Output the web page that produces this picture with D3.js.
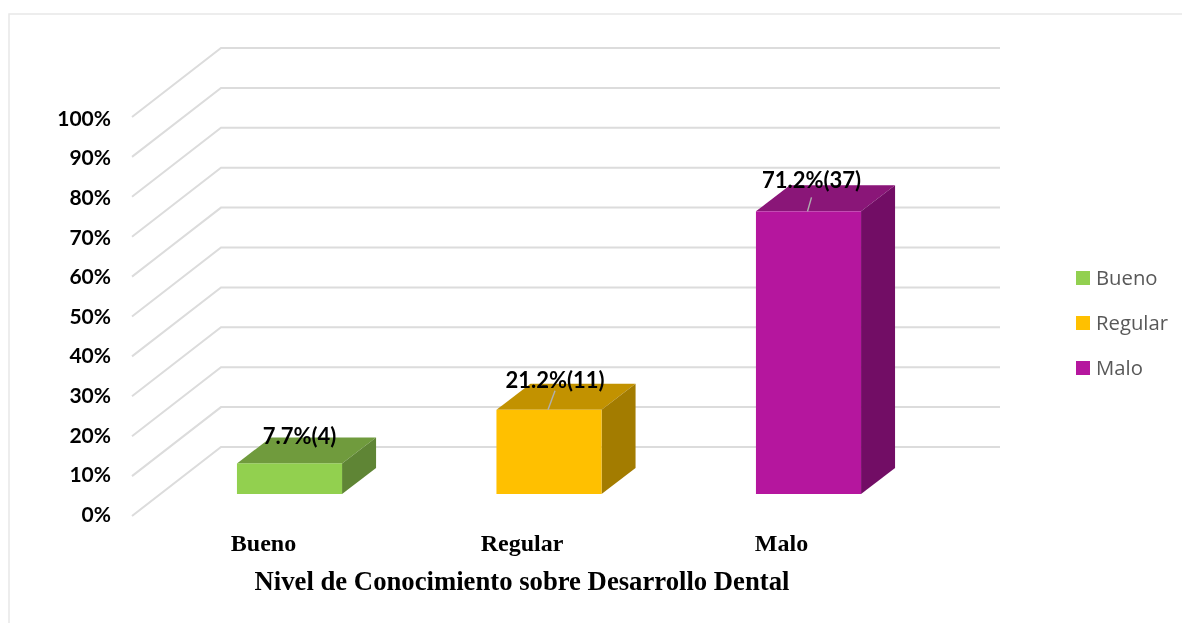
<html>
<head>
<meta charset="utf-8">
<script src="https://d3js.org/d3.v7.min.js"></script>
<style>
	body { margin:0; background:#fff; }
	svg { display:block; }
</style>
</head>
<body>
<svg id="chart" width="1182" height="623"></svg>
<script>
// values
var categories = ["Bueno", "Regular", "Malo"];
var percents = [7.7, 21.2, 71.2];
var counts = [4, 11, 37];
var yticks = [0, 10, 20, 30, 40, 50, 60, 70, 80, 90, 100];
var axisTitle = "Nivel de Conocimiento sobre Desarrollo Dental";

var frontColors = ["#92d050", "#ffc000", "#b5179e"];
var topColors = ["#6f9b3d", "#c29200", "#8a1278"];
var sideColors = ["#5f8534", "#a37b00", "#720f65"];

var svg = d3.select("#chart");
var soft = svg.append("filter").attr("id", "soft");
soft.append("feGaussianBlur").attr("stdDeviation", 0.5);
var softText = svg.append("filter").attr("id", "softText");
softText.append("feGaussianBlur").attr("stdDeviation", 0.3);

// floor/wall geometry
var wallDx = 89, wallDy = -69;
var barDx = 34, barDy = -26;
var gridRight = 1000;

var yAxisScale = d3.scaleLinear().domain([0, 100]).range([514, 118]);
var yGrid = d3.scaleLinear().domain([0, 100]).range([516, 117]);
var yBar = d3.scaleLinear().domain([0, 100]).range([494, 97]);
var x = d3.scaleBand().domain(categories).range([159.75, 938.25])
	.paddingInner(0.595).paddingOuter(0.2975);

// outer frame
svg.append("path")
	.attr("d", "M9,623V14H1182")
	.attr("fill", "none")
	.attr("stroke", "#e8e8e8")
	.attr("stroke-width", 1.5);

// gridlines, side wall then back wall
var grid = svg.append("g").attr("filter", "url(#soft)");
grid.selectAll("path")
	.data(yticks)
	.enter()
	.append("path")
		.attr("d", function(d) {
			var y0 = yGrid(d);
			return "M132," + y0 + "L" + (132 + wallDx) + "," + (y0 + wallDy) + "H" + gridRight;
		})
		.attr("fill", "none")
		.attr("stroke", "#dcdcdc")
		.attr("stroke-width", 2);

// y axis
var yAxis = svg.append("g")
	.attr("transform", "translate(118,0)")
	.attr("filter", "url(#softText)")
	.call(d3.axisLeft(yAxisScale).tickValues(yticks).tickSize(0).tickPadding(7).tickFormat(function(d) { return d + "%"; }));
yAxis.select(".domain").remove();
yAxis.selectAll("text")
	.attr("dy", "0.35em")
	.style("font", "bold 21px Lato")
	.attr("fill", "#000");

// 3d bars
var bars = svg.append("g").attr("filter", "url(#soft)");
categories.forEach(function(c, i) {
	var x0 = x(c), x1 = x0 + x.bandwidth();
	var yb = yBar(0), yt = yBar(percents[i]);
	bars.append("path")
		.attr("d", "M" + x0 + "," + yt + "L" + (x0 + barDx) + "," + (yt + barDy) + "H" + (x1 + barDx) + "L" + x1 + "," + yt + "Z")
		.attr("fill", topColors[i]);
	bars.append("path")
		.attr("d", "M" + x1 + "," + yt + "L" + (x1 + barDx) + "," + (yt + barDy) + "V" + (yb + barDy) + "L" + x1 + "," + yb + "Z")
		.attr("fill", sideColors[i]);
	bars.append("rect")
		.attr("x", x0)
		.attr("y", yt)
		.attr("width", x.bandwidth())
		.attr("height", yb - yt)
		.attr("fill", frontColors[i]);
});

// leader lines + data labels
var labels = svg.append("g").attr("filter", "url(#softText)");
categories.forEach(function(c, i) {
	var cx = x(c) + x.bandwidth() / 2;
	var yt = yBar(percents[i]);
	if (i > 0) {
		labels.append("line")
			.attr("x1", cx - 1)
			.attr("y1", yt)
			.attr("x2", i == 1 ? cx + 6 : cx + 3)
			.attr("y2", yt - (i == 1 ? 19 : 14))
			.attr("stroke", "#b0b0b0")
			.attr("stroke-width", 1.4);
	}
	labels.append("text")
		.attr("x", cx + [10, 6, 3][i])
		.attr("y", yt - [19, 22, 23][i])
		.attr("text-anchor", "middle")
		.style("font", "bold 22px Lato")
		.text(percents[i] + "%(" + counts[i] + ")");
});

// category labels
categories.forEach(function(c, i) {
	labels.append("text")
		.attr("x", x(c) + x.bandwidth() / 2 + [-26, -27, -27][i])
		.attr("y", 551)
		.attr("text-anchor", "middle")
		.style("font", "bold 24px 'Liberation Serif'")
		.text(c);
});

labels.append("text")
	.attr("x", 522)
	.attr("y", 590)
	.attr("text-anchor", "middle")
	.style("font", "bold 26.7px 'Liberation Serif'")
	.text(axisTitle);

// legend
var legend = svg.selectAll(".legend")
	.data(categories)
	.enter()
	.append("g")
		.attr("class", "legend")
		.attr("transform", function(d, i) { return "translate(1076," + (271 + i * 45) + ")"; });
legend.append("rect")
	.attr("width", 14)
	.attr("height", 14)
	.attr("fill", function(d, i) { return frontColors[i]; });
legend.append("text")
	.attr("x", 20)
	.attr("y", 14)
	.attr("filter", "url(#softText)")
	.style("font", "20.3px 'Open Sans'")
	.attr("fill", "#595959")
	.text(function(d) { return d; });
</script>
</body>
</html>
